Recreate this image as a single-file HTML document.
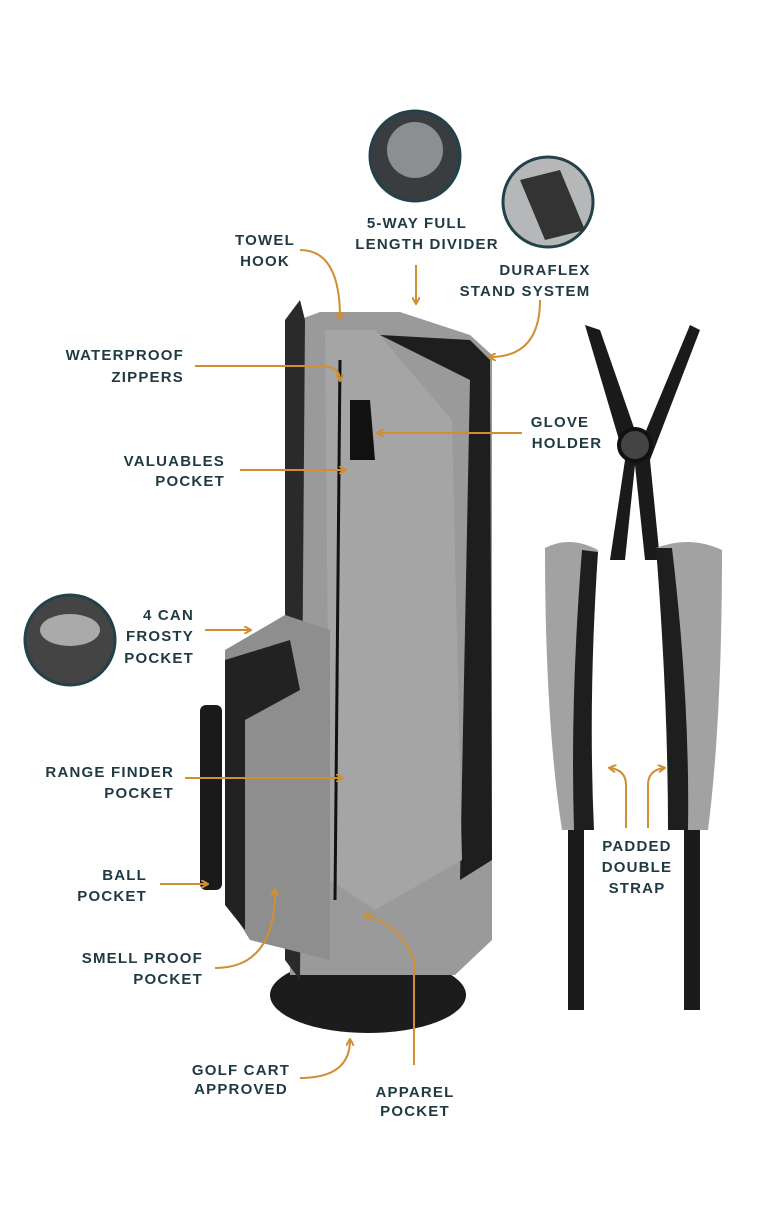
<!DOCTYPE html>
<html><head><meta charset="utf-8"><style>
html,body{margin:0;padding:0;background:#fff}
svg{display:block}
text{font-family:"Liberation Sans",sans-serif;font-size:15px;fill:#1f3a42;letter-spacing:1.2px;font-weight:bold}
.a{fill:none;stroke:#d08f34;stroke-width:2}
</style></head><body>
<svg width="768" height="1223" viewBox="0 0 768 1223" xmlns="http://www.w3.org/2000/svg">
<defs><marker id="m" markerWidth="8" markerHeight="8" refX="6" refY="4" orient="auto" markerUnits="userSpaceOnUse"><path d="M0,0 L7,4 L0,8" fill="none" stroke="#d08f34" stroke-width="2"/></marker></defs>
<circle cx="415" cy="156" r="45" fill="#3a3d40" stroke="#23414a" stroke-width="3"/>
<circle cx="415" cy="150" r="28" fill="#8c8f92"/>
<circle cx="548" cy="202" r="45" fill="#b5b7b9" stroke="#23414a" stroke-width="3"/>
<path d="M520,180 L560,170 L585,230 L545,240 Z" fill="#333"/>
<circle cx="70" cy="640" r="45" fill="#444" stroke="#23414a" stroke-width="3"/>
<ellipse cx="70" cy="630" rx="30" ry="16" fill="#aaa"/>
<ellipse cx="368" cy="995" rx="98" ry="38" fill="#1c1c1c"/>
<path d="M285,325 L320,312 L400,312 L470,335 L492,355 L492,940 L455,975 L290,975 Z" fill="#9a9a9a"/>
<path d="M380,335 L470,340 L490,360 L492,860 L460,880 L470,380 Z" fill="#1e1e1e"/>
<path d="M325,330 L375,330 L452,420 L462,860 L375,910 L330,880 Z" fill="#a5a5a5"/>
<path d="M285,320 L300,300 L305,320 L300,980 L285,960 Z" fill="#2a2a2a"/>
<path d="M350,400 L370,400 L375,460 L350,460 Z" fill="#111"/>
<path d="M225,650 L285,615 L330,630 L330,960 L250,940 L225,900 Z" fill="#8e8e8e"/>
<path d="M225,660 L290,640 L300,690 L245,720 L245,930 L225,905 Z" fill="#222"/>
<rect x="200" y="705" width="22" height="185" rx="6" fill="#1a1a1a"/>
<path d="M340,360 L335,900" stroke="#111" stroke-width="3" fill="none"/>
<path d="M585,325 L600,330 L640,445 L690,325 L700,330 L650,460 L660,560 L645,560 L635,465 L625,560 L610,560 L625,460 Z" fill="#1a1a1a"/>
<circle cx="635" cy="445" r="16" fill="#444" stroke="#111" stroke-width="4"/>
<path d="M545,548 Q570,535 598,550 Q588,700 592,830 L562,830 Q545,720 545,548 Z" fill="#a2a2a2"/>
<path d="M582,550 L598,552 Q588,700 594,830 L574,830 Q570,700 582,550 Z" fill="#1e1e1e"/>
<path d="M656,548 Q690,535 722,550 Q722,720 708,830 L676,830 Q682,700 656,548 Z" fill="#a2a2a2"/>
<path d="M656,548 L672,548 Q690,700 688,830 L668,830 Q668,700 656,548 Z" fill="#1e1e1e"/>
<rect x="568" y="830" width="16" height="180" fill="#1a1a1a"/>
<rect x="684" y="830" width="16" height="180" fill="#1a1a1a"/>
<path class="a" marker-end="url(#m)" d="M300,250 Q340,250 340,318"/>
<path class="a" marker-end="url(#m)" d="M416,265 L416,303"/>
<path class="a" marker-end="url(#m)" d="M540,300 Q540,357 490,357"/>
<path class="a" marker-end="url(#m)" d="M195,366 L320,366 Q340,366 340,380"/>
<path class="a" marker-end="url(#m)" d="M522,433 L378,433"/>
<path class="a" marker-end="url(#m)" d="M240,470 L345,470"/>
<path class="a" marker-end="url(#m)" d="M205,630 L250,630"/>
<path class="a" marker-end="url(#m)" d="M185,778 L342,778"/>
<path class="a" marker-end="url(#m)" d="M160,884 L207,884"/>
<path class="a" marker-end="url(#m)" d="M215,968 Q275,968 275,890"/>
<path class="a" marker-end="url(#m)" d="M300,1078 Q350,1078 350,1040"/>
<path class="a" marker-end="url(#m)" d="M414,1065 L414,960 Q400,925 365,915"/>
<path class="a" marker-end="url(#m)" d="M626,828 L626,785 Q626,770 610,768"/>
<path class="a" marker-end="url(#m)" d="M648,828 L648,785 Q648,770 664,768"/>
<g text-anchor="middle">
<text x="265" y="245">TOWEL</text><text x="265" y="266">HOOK</text>
<text x="417" y="228">5-WAY FULL</text><text x="427" y="249">LENGTH DIVIDER</text>
<text x="545" y="275">DURAFLEX</text><text x="525" y="296">STAND SYSTEM</text>
<text x="560" y="427">GLOVE</text><text x="567" y="448">HOLDER</text>
<text x="241" y="1075">GOLF CART</text><text x="241" y="1094">APPROVED</text>
<text x="415" y="1097">APPAREL</text><text x="415" y="1116">POCKET</text>
<text x="637" y="851">PADDED</text><text x="637" y="872">DOUBLE</text><text x="637" y="893">STRAP</text>
</g>
<g text-anchor="end">
<text x="184" y="360">WATERPROOF</text><text x="184" y="382">ZIPPERS</text>
<text x="225" y="466">VALUABLES</text><text x="225" y="486">POCKET</text>
<text x="194" y="620">4 CAN</text><text x="194" y="641">FROSTY</text><text x="194" y="663">POCKET</text>
<text x="174" y="777">RANGE FINDER</text><text x="174" y="798">POCKET</text>
<text x="147" y="880">BALL</text><text x="147" y="901">POCKET</text>
<text x="203" y="963">SMELL PROOF</text><text x="203" y="984">POCKET</text>
</g>
</svg>
</body></html>
